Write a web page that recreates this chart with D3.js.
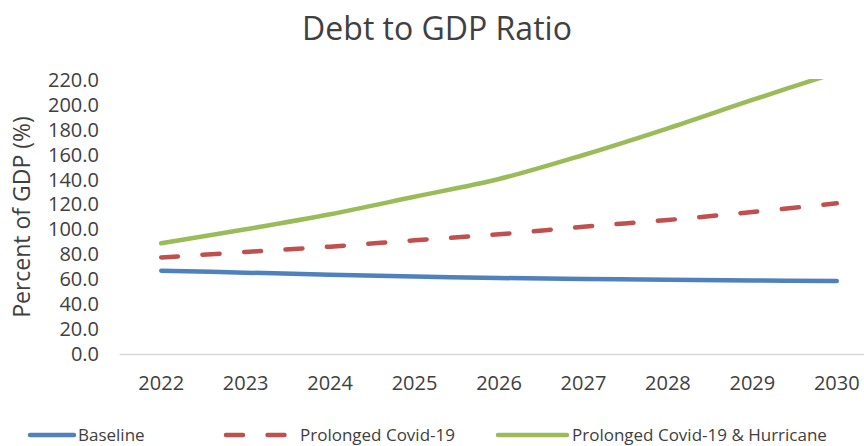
<!DOCTYPE html>
<html>
<head>
<meta charset="utf-8">
<script src="https://cdn.jsdelivr.net/npm/d3@7"></script>
<style>
  body { margin: 0; background: #fff; }
  svg { display: block; font-family: "Open Sans", sans-serif; }
</style>
</head>
<body>
<svg id="chart" width="864" height="446"></svg>
<script>
// values
years = ["2022", "2023", "2024", "2025", "2026", "2027", "2028", "2029", "2030"]
baseline = [66.9, 65.3, 63.7, 62.3, 61.0, 60.3, 59.7, 59.1, 58.6]
prolonged = [77.5, 81.9, 86.2, 91.3, 96.1, 102.2, 107.6, 114.0, 121.0]
hurricane = [88.9, 100.1, 112.2, 126.3, 140.5, 159.8, 181.2, 204.0, 226.0]
yTicks = [0, 20, 40, 60, 80, 100, 120, 140, 160, 180, 200, 220]

seriesList = [
  { name: "Baseline", values: baseline, color: "#4F81BD", dash: null },
  { name: "Prolonged Covid-19", values: prolonged, color: "#C0504D", dash: "17,24.5" },
  { name: "Prolonged Covid-19 & Hurricane", values: hurricane, color: "#9BBB59", dash: null },
]

svg = d3.select("#chart")
margin = { left: 119, right: -15, top: 80, bottom: 92 }
width = +svg.attr("width")
height = +svg.attr("height")

x = d3.scaleBand()
  .domain(years)
  .range([margin.left, width - margin.right])

y = d3.scaleLinear()
  .domain([0, 220])
  .range([height - margin.bottom, margin.top])

// title
svg.append("text")
  .attr("x", 437)
  .attr("y", 40)
  .attr("text-anchor", "middle")
  .attr("font-size", 32)
  .attr("fill", "#404040")
  .text("Debt to GDP Ratio")

// y axis labels (no line)
yAxis = svg.append("g")
  .attr("transform", `translate(${margin.left - 20}, 0)`)
  .call(d3.axisLeft(y).tickValues(yTicks).tickSize(0).tickPadding(0).tickFormat(d3.format(".1f")))
yAxis.select(".domain").remove()
yAxis.selectAll("text")
  .attr("font-size", 20)
  .attr("font-family", "Open Sans, sans-serif")
  .attr("fill", "#404040")

svg.append("text")
  .attr("transform", `translate(30, ${(y(0) + y(220)) / 2}) rotate(-90)`)
  .attr("text-anchor", "middle")
  .attr("font-size", 23)
  .attr("fill", "#404040")
  .text("Percent of GDP (%)")

// x axis
xAxis = svg.append("g")
  .attr("transform", `translate(0, ${y(0)})`)
  .call(d3.axisBottom(x).tickSize(0).tickPadding(22))
xAxis.select(".domain")
  .attr("stroke", "#D9D9D9")
  .attr("stroke-width", 1.5)
xAxis.selectAll("text")
  .attr("font-size", 20)
  .attr("font-family", "Open Sans, sans-serif")
  .attr("fill", "#404040")

// clip to plot area, values beyond 220 run off the top
svg.append("clipPath").attr("id", "plotClip")
  .append("rect")
  .attr("x", margin.left)
  .attr("y", y(220) - 1)
  .attr("width", width - margin.left)
  .attr("height", y(0) - y(220) + 6)

line = d3.line()
  .x((d, i) => x(years[i]) + x.bandwidth() / 2)
  .y(d => y(d))
  .curve(d3.curveCatmullRom.alpha(0.5))

plot = svg.append("g").attr("clip-path", "url(#plotClip)")
seriesList.forEach(s => {
  plot.append("path")
    .datum(s.values)
    .attr("fill", "none")
    .attr("stroke", s.color)
    .attr("stroke-width", 4.5)
    .attr("stroke-linecap", "round")
    .attr("stroke-dasharray", s.dash)
    .attr("d", line)
})

// legend
legendItems = [
  { x1: 30, x2: 74, tx: 78 },
  { x1: 226, x2: 290, tx: 300 },
  { x1: 498, x2: 567, tx: 572 },
]
legend = svg.append("g")
seriesList.forEach((s, i) => {
  it = legendItems[i]
  legend.append("line")
    .attr("x1", it.x1).attr("x2", it.x2)
    .attr("y1", 435).attr("y2", 435)
    .attr("stroke", s.color)
    .attr("stroke-width", 4.5)
    .attr("stroke-linecap", "round")
    .attr("stroke-dasharray", s.dash ? "17,24.5" : null)
  legend.append("text")
    .attr("x", it.tx)
    .attr("y", 441)
    .attr("font-size", 17)
    .attr("fill", "#404040")
    .text(s.name)
})
</script>
</body>
</html>
